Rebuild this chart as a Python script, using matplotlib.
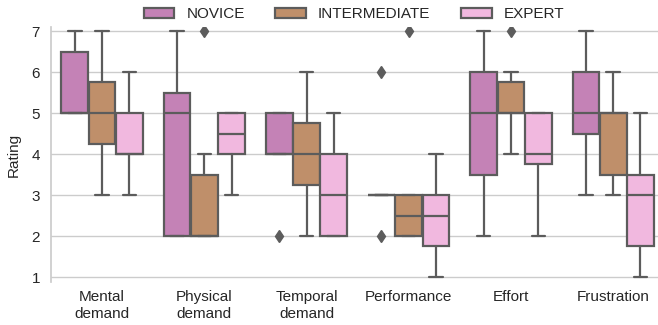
import matplotlib
matplotlib.use("Agg")
import matplotlib.pyplot as plt
from matplotlib.patches import Patch
import seaborn as sns

sns.set_theme(style="whitegrid")
plt.rcParams["font.family"] = ["Liberation Sans", "DejaVu Sans"]

CATEGORIES = ["Mental\ndemand", "Physical\ndemand", "Temporal\ndemand",
              "Performance", "Effort", "Frustration"]
GROUPS = ["NOVICE", "INTERMEDIATE", "EXPERT"]
COLORS = {"NOVICE": "#c482b6", "INTERMEDIATE": "#bf8f6a", "EXPERT": "#f1b8df"}

# box statistics, one entry per category
# (whisker low, q1, median, q3, whisker high)
NOVICE = [
    (5, 5, 5, 6.5, 7),
    (2, 2, 5, 5.5, 7),
    (4, 4, 4, 5, 5),
    (3, 3, 3, 3, 3),
    (2, 3.5, 5, 6, 7),
    (3, 4.5, 5, 6, 7),
]
INTERMEDIATE = [
    (3, 4.25, 5, 5.75, 7),
    (2, 2, 2, 3.5, 4),
    (2, 3.25, 4, 4.75, 6),
    (2, 2, 2.5, 3, 3),
    (4, 5, 5, 5.75, 6),
    (3, 3.5, 5, 5, 6),
]
EXPERT = [
    (3, 4, 4, 5, 6),
    (3, 4, 4.5, 5, 5),
    (2, 2, 3, 4, 5),
    (1, 1.75, 2.5, 3, 4),
    (2, 3.75, 4, 5, 5),
    (1, 1.75, 3, 3.5, 5),
]
# outliers per category
NOVICE_FLIERS = [[], [], [2], [6, 2], [], []]
INTERMEDIATE_FLIERS = [[], [7], [], [7], [7], []]
EXPERT_FLIERS = [[], [], [], [], [], []]

STATS = {"NOVICE": (NOVICE, NOVICE_FLIERS),
         "INTERMEDIATE": (INTERMEDIATE, INTERMEDIATE_FLIERS),
         "EXPERT": (EXPERT, EXPERT_FLIERS)}

LINE = "#5c5c5c"
BOX_W = 0.8 / 3

fig = plt.figure(figsize=(6.58, 3.25), dpi=100)
ax = fig.add_axes([0.0775, 0.132, 0.932, 0.785])

for g_idx, group in enumerate(GROUPS):
    boxes, fliers = STATS[group]
    stats = []
    for (lo, q1, med, q3, hi), fl in zip(boxes, fliers):
        stats.append(dict(whislo=lo, q1=q1, med=med, q3=q3, whishi=hi, fliers=fl))
    positions = [i + (g_idx - 1) * BOX_W for i in range(len(CATEGORIES))]
    ax.bxp(
        stats,
        positions=positions,
        widths=BOX_W * 0.98,
        capwidths=BOX_W * 0.49,
        patch_artist=True,
        boxprops=dict(facecolor=COLORS[group], edgecolor=LINE, linewidth=1.6),
        medianprops=dict(color=LINE, linewidth=1.6),
        whiskerprops=dict(color=LINE, linewidth=1.6),
        capprops=dict(color=LINE, linewidth=1.6),
        flierprops=dict(marker="d", markerfacecolor=LINE, markeredgecolor=LINE,
                        markersize=6, linestyle="none"),
        manage_ticks=False,
    )

ax.set_xlim(-0.5, len(CATEGORIES) - 0.5)
ax.set_ylim(0.88, 7.1)
ax.set_yticks(range(1, 8))
ax.set_xticks(range(len(CATEGORIES)))
ax.set_xticklabels(CATEGORIES, fontsize=11, color="#262626", linespacing=1.2)
ax.tick_params(axis="y", labelsize=11, labelcolor="#262626", pad=8, length=0)
ax.tick_params(axis="x", pad=6, length=0)
ax.set_ylabel("Rating", fontsize=11, color="#262626", labelpad=8)
ax.grid(axis="x", visible=False)
ax.grid(axis="y", color="#cccccc", linewidth=1)
for side in ["top", "right", "bottom"]:
    ax.spines[side].set_visible(False)
ax.spines["left"].set_color("#cccccc")

handles = [Patch(facecolor=COLORS[g], edgecolor=LINE, linewidth=1.6, label=g)
           for g in GROUPS]
fig.legend(handles=handles, loc="upper center", bbox_to_anchor=(0.538, 1.02),
           ncol=3, frameon=False, fontsize=11, columnspacing=2.0,
           handletextpad=0.8)

fig.savefig("out.png", dpi=100)
